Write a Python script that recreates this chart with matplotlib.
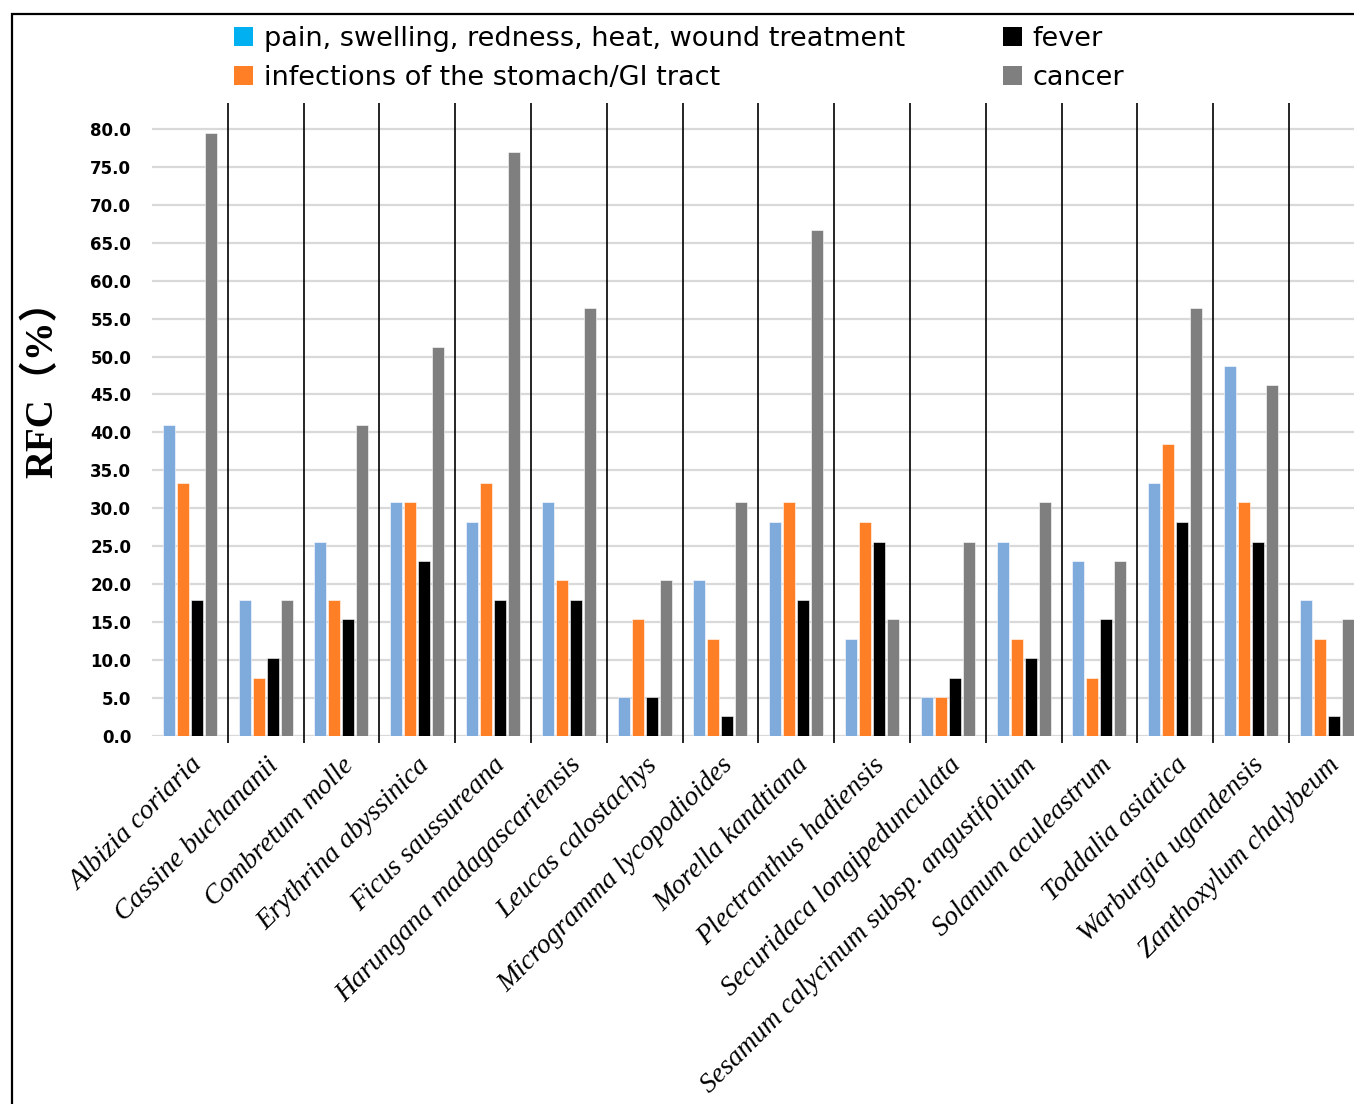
import numpy as np
import matplotlib
matplotlib.use("Agg")
import matplotlib.pyplot as plt
from matplotlib.patches import Patch, Rectangle

# plant species (x categories)
species = [
    "Albizia coriaria", "Cassine buchananii", "Combretum molle",
    "Erythrina abyssinica", "Ficus saussureana", "Harungana madagascariensis",
    "Leucas calostachys", "Microgramma lycopodioides", "Morella kandtiana",
    "Plectranthus hadiensis", "Securidaca longipedunculata",
    "Sesamum calycinum subsp. angustifolium", "Solanum aculeastrum",
    "Toddalia asiatica", "Warburgia ugandensis", "Zanthoxylum chalybeum",
]

series_names = [
    "pain, swelling, redness, heat, wound treatment",
    "infections of the stomach/GI tract",
    "fever",
    "cancer",
]

pain = [41.0, 17.9, 25.6, 30.8, 28.2, 30.8, 5.1, 20.5, 28.2, 12.8, 5.1, 25.6, 23.1, 33.3, 48.7, 17.9]
stomach = [33.3, 7.7, 17.9, 30.8, 33.3, 20.5, 15.4, 12.8, 30.8, 28.2, 5.1, 12.8, 7.7, 38.5, 30.8, 12.8]
fever = [17.9, 10.3, 15.4, 23.1, 17.9, 17.9, 5.1, 2.6, 17.9, 25.6, 7.7, 10.3, 15.4, 28.2, 25.6, 2.6]
cancer = [79.5, 17.9, 41.0, 51.3, 76.9, 56.4, 20.5, 30.8, 66.7, 15.4, 25.6, 30.8, 23.1, 56.4, 46.2, 15.4]

yticks = np.arange(0, 80.1, 5)

bar_colors = ["#7EAADC", "#FF7F27", "#000000", "#7F7F7F"]
legend_colors = ["#00B0F0", "#FF7F27", "#000000", "#7F7F7F"]

W, H = 1354, 1104
fig = plt.figure(figsize=(W / 100, H / 100), dpi=100)

# outer frame (cut by the right/bottom edge of the picture)
fig.patches.append(Rectangle((12 / W, -0.05), 1.2, 1 - 14 / H + 0.05,
                             transform=fig.transFigure, fill=False,
                             edgecolor="black", linewidth=1.6, zorder=0))

ax = fig.add_axes([152 / W, (H - 736) / H, 1 - 152 / W, (736 - 103) / H])

x = np.arange(len(species))
step = 14 / 75.8
bw = 12 / 75.8
for k, vals in enumerate([pain, stomach, fever, cancer]):
    ax.bar(x + (k - 1.5) * step, vals, width=bw, color=bar_colors[k],
           edgecolor="white", linewidth=0.4, zorder=3)

ax.set_xlim(-0.5, -0.5 + (W - 152) / 75.8)
ax.set_ylim(0, 83.4)

for s in ax.spines.values():
    s.set_visible(False)

ax.set_yticks(yticks)
ax.set_yticklabels([f"{v:.1f}" for v in yticks], fontsize=12, fontweight="bold")
ax.tick_params(axis="y", length=0, pad=15)
ax.yaxis.grid(True, color="#D9D9D9", linewidth=1.6, zorder=0)
ax.set_axisbelow(True)

# group separators
ax.vlines(x[:-1] + 0.5, -0.9, 83.4, color="black", linewidth=1.2,
          clip_on=False, zorder=4)

ax.set_xticks(x)
ax.set_xticklabels(species, rotation=45, ha="right", va="top",
                   rotation_mode="anchor", fontsize=20, fontstyle="italic",
                   family="Liberation Serif")
ax.tick_params(axis="x", length=0, pad=12)

fig.text(43 / W, 1 - 380 / H, "RFC（%）", rotation=90, ha="center", va="center",
         fontsize=28, fontweight="bold",
         family=["Liberation Serif", "Noto Sans CJK SC"])

handles = [Patch(facecolor=c, edgecolor="none") for c in legend_colors]
fig.legend(handles, series_names, loc="upper left",
           bbox_to_anchor=(210 / W, 1 - 2 / H), ncol=2, frameon=False,
           fontsize=19.5, handlelength=0.7, handleheight=0.7, handletextpad=0.4,
           columnspacing=3.6, labelspacing=0.45)

fig.savefig("out.png", dpi=100)
